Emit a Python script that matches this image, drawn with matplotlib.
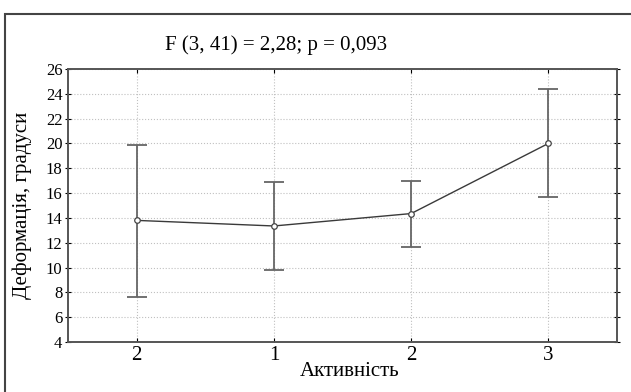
import matplotlib.pyplot as plt
from matplotlib.patches import Rectangle

categories = ['2', '1', '2', '3']
means = [13.8, 13.35, 14.35, 20.0]
upper = [19.9, 16.9, 16.97, 24.35]
lower = [7.6, 9.8, 11.65, 15.7]

plt.rcParams['font.family'] = ['Liberation Serif', 'DejaVu Serif']

fig = plt.figure(figsize=(6.31, 3.92), dpi=100)
ax = fig.add_axes([68 / 631, 1 - 342 / 392, (617 - 68) / 631, (342 - 69) / 392])

x = list(range(len(categories)))
err_lo = [m - l for m, l in zip(means, lower)]
err_hi = [u - m for m, u in zip(means, upper)]

ax.errorbar(x, means, yerr=[err_lo, err_hi], fmt='none', ecolor='#666666',
            elinewidth=1.3, capsize=7.5, capthick=1.3, zorder=2)
ax.plot(x, means, color='#3a3a3a', lw=1.0, marker='o', ms=4,
        mfc='white', mec='#444444', mew=0.9, zorder=3)

ax.set_xlim(-0.5, 3.5)
ax.set_ylim(4, 26)
ax.set_yticks(range(4, 27, 2))
ax.set_xticks(x)
ax.set_xticklabels(categories, fontsize=15)
ax.tick_params(axis='y', labelsize=12, direction='inout', right=True, length=4, pad=2)
ax.tick_params(axis='x', direction='in', top=True, length=3, pad=3)
ax.grid(True, linestyle=':', color='#c0c0c0', lw=0.8)
ax.set_axisbelow(True)
for s in ax.spines.values():
    s.set_color('#555555')
    s.set_linewidth(1.4)

fig.text(276 / 631, 1 - 45 / 392, 'F (3, 41) = 2,28; p = 0,093',
         ha='center', va='center', fontsize=15)
fig.text(350 / 631, 1 - 372 / 392, 'Активність', ha='center', va='center', fontsize=15)
fig.text(22 / 631, 1 - 205 / 392, 'Деформація, градуси', ha='center', va='center',
         rotation=90, fontsize=15)

fig.patches.append(Rectangle((5 / 631, -0.05), 1.2, 1 - 14 / 392 + 0.05,
                             transform=fig.transFigure, fill=False,
                             edgecolor='#444444', lw=1.5))

fig.savefig('out.png', dpi=100)
